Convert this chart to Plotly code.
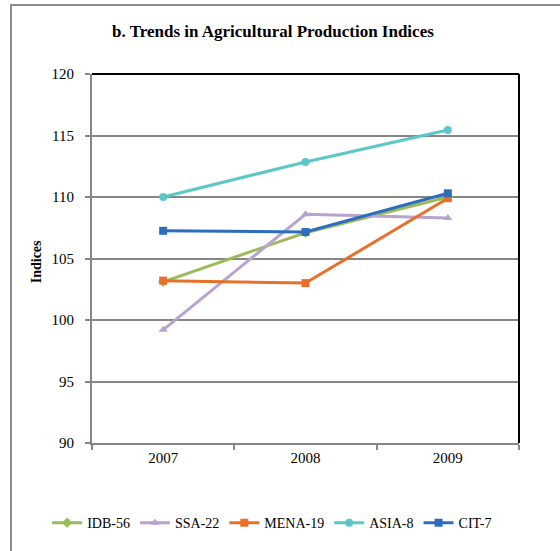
import plotly.graph_objects as go

years = ["2007", "2008", "2009"]
idb_56 = [103.1, 107.1, 110.0]
ssa_22 = [99.2, 108.6, 108.3]
mena_19 = [103.2, 103.0, 109.9]
asia_8 = [110.0, 112.85, 115.45]
cit_7 = [107.25, 107.15, 110.3]

series = [
    ("IDB-56", idb_56, "#9BBB59", "diamond"),
    ("SSA-22", ssa_22, "#B7A3CF", "triangle-up"),
    ("MENA-19", mena_19, "#E8702A", "square"),
    ("ASIA-8", asia_8, "#5BC8C8", "circle"),
    ("CIT-7", cit_7, "#2E6DBE", "square"),
]

fig = go.Figure()
for name, vals, color, sym in series:
    fig.add_trace(go.Scatter(x=years, y=vals, name=name, mode="lines+markers",
                             line=dict(color=color, width=3),
                             marker=dict(color=color, symbol=sym, size=8)))

serif = "Liberation Serif"
grey = "#868686"

fig.update_layout(
    width=560, height=551,
    margin=dict(l=92, r=41, t=74, b=108),
    plot_bgcolor="white", paper_bgcolor="white",
    font=dict(family=serif, size=14, color="black"),
    showlegend=True,
    legend=dict(orientation="h", x=-0.105, xanchor="left", y=-0.217, yanchor="middle",
                font=dict(family=serif, size=14, color="black"), itemwidth=30, tracegroupgap=0),
    xaxis=dict(type="category", range=[-0.5, 2.5], showgrid=False,
               showline=True, linecolor=grey, linewidth=2,
               tickfont=dict(family=serif, size=15, color="black"),
               ticks="outside", tickson="boundaries", ticklen=5, tickcolor=grey, tickwidth=2),
    yaxis=dict(range=[90, 120], dtick=5, showgrid=True, gridcolor=grey, gridwidth=2,
               showline=True, linecolor=grey, linewidth=2, zeroline=False,
               tickfont=dict(family=serif, size=15, color="black"), ticklabelstandoff=8,
               ticks="outside", ticklen=5, tickcolor=grey, tickwidth=2),
    shapes=[
        # black top and right border of the plot area
        dict(type="line", xref="paper", yref="paper", x0=0, x1=1, y0=1, y1=1,
             line=dict(color="black", width=2)),
        dict(type="line", xref="paper", yref="paper", x0=1, x1=1, y0=0, y1=1,
             line=dict(color="black", width=2)),
        # outer chart frame
        dict(type="rect", xref="paper", yref="paper", x0=-0.1897, x1=1.2, y0=-0.35, y1=1.187,
             line=dict(color="#8C8C8C", width=2), layer="below"),
    ],
    annotations=[
        dict(text="<b>b. Trends in Agricultural Production Indices</b>", xref="paper", yref="paper",
             x=0.423, y=1.1165, showarrow=False, font=dict(family=serif, size=17),
             xanchor="center", yanchor="middle"),
        dict(text="<b>Indices</b>", xref="paper", yref="paper", x=-0.131, y=0.49,
             textangle=-90, showarrow=False, font=dict(family=serif, size=14),
             xanchor="center", yanchor="middle"),
    ],
)

# drop the default page margin so the figure sits at the window's top-left corner
fig.write_html("out.html", config={"displayModeBar": False},
               post_script="document.body.style.margin='0';")
